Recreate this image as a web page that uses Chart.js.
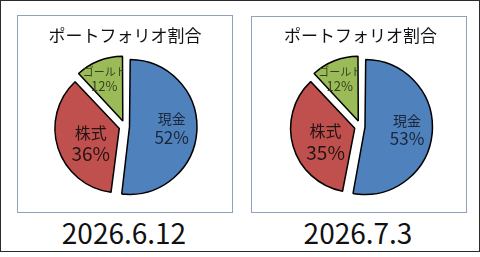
<!DOCTYPE html>
<html lang="ja">
<head>
<meta charset="utf-8">
<script src="https://cdn.jsdelivr.net/npm/chart.js@4/dist/chart.umd.min.js"></script>
<style>
  html, body { margin: 0; padding: 0; background: #fff; }
  body { width: 480px; height: 257px; position: relative; overflow: hidden; font-family: "Noto Sans CJK JP", sans-serif; }
  .frame { position: absolute; left: 0; top: 0; width: 480px; height: 252px; border: 1.5px solid #2b2b2b; box-sizing: border-box; }
  .box { position: absolute; border: 1.5px solid #8fa2bd; box-sizing: border-box; }
  .chart { position: absolute; width: 214px; height: 194px; }
  .date { position: absolute; top: 214px; width: 216px; text-align: center; font-size: 28px; color: #111; line-height: 36px; }
</style>
</head>
<body>
<div class="frame"></div>
<div class="box" style="left:17px; top:15px; width:216px; height:197.5px;"></div>
<div class="box" style="left:251px; top:16px; width:216px; height:196.5px;"></div>
<div class="chart" style="left:18px; top:17px;"><canvas id="pieA"></canvas></div>
<div class="chart" style="left:252px; top:17px;"><canvas id="pieB"></canvas></div>
<div class="date" id="dateA" style="left:16px;"></div>
<div class="date" id="dateB" style="left:250px;"></div>

<script>
// data
const title = 'ポートフォリオ割合';
const categories = ['現金', '株式', 'ゴールド'];
const sharesJun12 = [52, 36, 12];
const sharesJul3 = [53, 35, 12];
const dates = ['2026.6.12', '2026.7.3'];

// look
const sliceColors = ['#4f81bd', '#c0504d', '#9bbb59'];
const sliceOffsets = [18, 24, 24];   // chart.js moves a slice by offset / 4
// k = distance from centre as part of radius, f = where along the slice, gap = space between the two lines
const labelStyle = [
    { k: 0.67, f: 0.49, gap: 18.5, nameSize: 14, pctSize: 17, nameDx: 0, color: '#1b2638' },
    { k: 0.51, f: 0.43, gap: 21, nameSize: 16, pctSize: 19, nameDx: 0, color: '#221414' },
    { k: 0.73, f: 0.45, gap: 13.5, nameSize: 11, pctSize: 13, nameDx: 0.5, color: '#34421f' },
];
const fontFamily = '"Noto Sans CJK JP", "Noto Sans", sans-serif';

// draws the name and the share inside each slice; text running past the slice's far edge is cut off
const sliceLabels = {
    id: 'sliceLabels',
    afterDatasetsDraw(chart) {
        const ctx = chart.ctx;
        const values = chart.data.datasets[0].data;
        chart.getDatasetMeta(0).data.forEach((arc, i) => {
            const p = arc.getProps(['x', 'y', 'startAngle', 'endAngle', 'outerRadius'], true);
            const shift = (arc.options.offset || 0) / 4;
            const mid = (p.startAngle + p.endAngle) / 2;
            const ox = p.x + Math.cos(mid) * shift;
            const oy = p.y + Math.sin(mid) * shift;
            const st = labelStyle[i];
            const a = p.startAngle + (p.endAngle - p.startAngle) * st.f;
            const lx = ox + Math.cos(a) * p.outerRadius * st.k;
            const ly = oy + Math.sin(a) * p.outerRadius * st.k;
            ctx.save();
            ctx.beginPath();
            ctx.moveTo(ox, oy);
            ctx.arc(ox, oy, p.outerRadius + 4, p.startAngle - 0.25, p.endAngle);
            ctx.closePath();
            ctx.clip();
            ctx.fillStyle = st.color;
            ctx.textAlign = 'center';
            ctx.textBaseline = 'middle';
            ctx.font = st.nameSize + 'px ' + fontFamily;
            ctx.fillText(chart.data.labels[i], lx + st.nameDx, ly - st.gap / 2);
            ctx.font = st.pctSize + 'px ' + fontFamily;
            ctx.fillText(values[i] + '%', lx, ly + st.gap / 2);
            ctx.restore();
        });
    }
};

function createPie(id, values, padLeft) {
    const ctx = document.getElementById(id).getContext('2d');
    return new Chart(ctx, {
        type: 'pie',
        data: {
            labels: categories,
            datasets: [{
                data: values,
                backgroundColor: sliceColors,
                borderColor: '#000',
                borderWidth: 1.5,
                offset: sliceOffsets,
                hoverOffset: 0,
            }],
        },
        options: {
            responsive: true,
            maintainAspectRatio: false,
            animation: false,
            events: [],
            radius: 63,
            layout: { padding: { left: padLeft, right: 0, top: 0, bottom: 7.2 } },
            plugins: {
                legend: { display: false },
                tooltip: { enabled: false },
                title: {
                    display: true,
                    text: title,
                    color: '#111',
                    font: { family: fontFamily, size: 17, weight: 'normal', lineHeight: 1.2 },
                    padding: { top: 8, bottom: 4 },
                },
            },
        },
        plugins: [sliceLabels],
    });
}

createPie('pieA', sharesJun12, 0);
createPie('pieB', sharesJul3, 3);
document.getElementById('dateA').textContent = dates[0];
document.getElementById('dateB').textContent = dates[1];
</script>
</body>
</html>
